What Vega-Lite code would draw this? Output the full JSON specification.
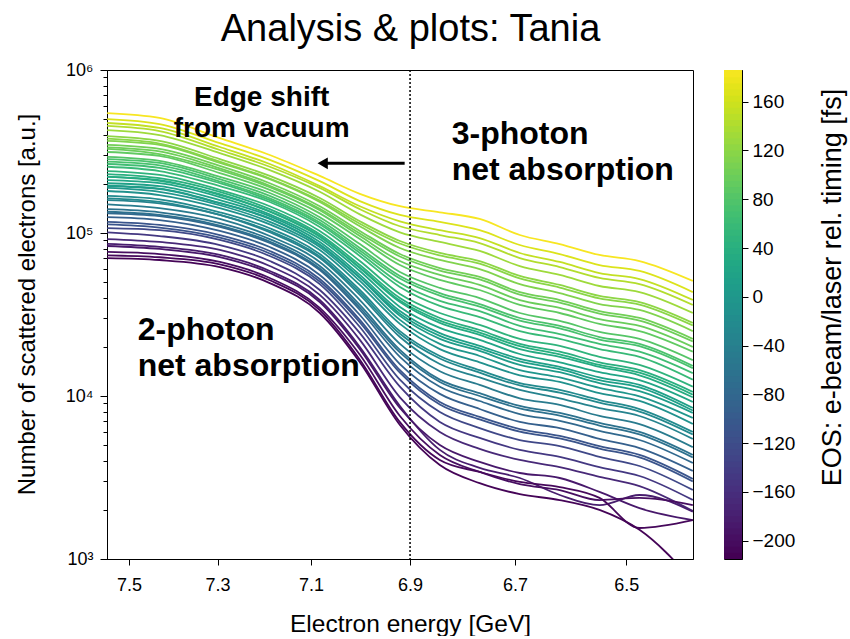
{
"$schema":"https://vega.github.io/schema/vega-lite/v6.json",
"background":"white",
"padding":{"left":14,"top":10,"right":2,"bottom":0},
"title":{"text":"Analysis & plots: Tania","fontSize":38,"font":"Liberation Sans","fontWeight":"normal","color":"black","anchor":"middle","offset":12,"dx":-20},
"config":{
 "font":"Liberation Sans",
 "view":{"stroke":"black","strokeWidth":1},
 "axis":{"grid":false,"domainColor":"black","domainWidth":1,"tickColor":"black","tickWidth":1,"labelColor":"black","titleColor":"black","labelFont":"Liberation Sans","titleFont":"Liberation Sans","labelFontSize":18,"titleFontSize":24,"titleFontWeight":"normal","labelFlush":false,"labelOverlap":false}
},
"datasets":{
"c":[
{"t":182,"x":7.551,"y":5.44e5},{"t":182,"x":7.43,"y":5.08e5},{"t":182,"x":7.295,"y":3.82e5},{"t":182,"x":7.187,"y":3.01e5},{"t":182,"x":7.082,"y":2.24e5},{"t":182,"x":7.0,"y":1.74e5},{"t":182,"x":6.92,"y":1.46e5},{"t":182,"x":6.842,"y":1.34e5},{"t":182,"x":6.766,"y":1.22e5},{"t":182,"x":6.691,"y":9.72e4},{"t":182,"x":6.618,"y":8.55e4},{"t":182,"x":6.547,"y":7.33e4},{"t":182,"x":6.477,"y":6.73e4},{"t":182,"x":6.386,"y":5.08e4},
{"t":165,"x":7.551,"y":5.00e5},{"t":165,"x":7.43,"y":4.66e5},{"t":165,"x":7.295,"y":3.56e5},{"t":165,"x":7.187,"y":2.81e5},{"t":165,"x":7.082,"y":2.08e5},{"t":165,"x":7.0,"y":1.57e5},{"t":165,"x":6.92,"y":1.29e5},{"t":165,"x":6.842,"y":1.17e5},{"t":165,"x":6.766,"y":1.04e5},{"t":165,"x":6.691,"y":8.44e4},{"t":165,"x":6.618,"y":7.43e4},{"t":165,"x":6.547,"y":6.36e4},{"t":165,"x":6.477,"y":5.85e4},{"t":165,"x":6.386,"y":4.34e4},
{"t":150,"x":7.551,"y":4.73e5},{"t":150,"x":7.43,"y":4.41e5},{"t":150,"x":7.295,"y":3.37e5},{"t":150,"x":7.187,"y":2.65e5},{"t":150,"x":7.082,"y":1.94e5},{"t":150,"x":7.0,"y":1.46e5},{"t":150,"x":6.92,"y":1.18e5},{"t":150,"x":6.842,"y":1.04e5},{"t":150,"x":6.766,"y":9.31e4},{"t":150,"x":6.691,"y":7.54e4},{"t":150,"x":6.618,"y":6.64e4},{"t":150,"x":6.547,"y":5.68e4},{"t":150,"x":6.477,"y":5.22e4},{"t":150,"x":6.386,"y":3.88e4},
{"t":140,"x":7.551,"y":4.54e5},{"t":140,"x":7.43,"y":4.22e5},{"t":140,"x":7.295,"y":3.23e5},{"t":140,"x":7.187,"y":2.55e5},{"t":140,"x":7.082,"y":1.89e5},{"t":140,"x":7.0,"y":1.40e5},{"t":140,"x":6.92,"y":1.10e5},{"t":140,"x":6.842,"y":9.72e4},{"t":140,"x":6.766,"y":8.68e4},{"t":140,"x":6.691,"y":7.02e4},{"t":140,"x":6.618,"y":6.18e4},{"t":140,"x":6.547,"y":5.30e4},{"t":140,"x":6.477,"y":4.86e4},{"t":140,"x":6.386,"y":3.62e4},
{"t":128,"x":7.551,"y":4.28e5},{"t":128,"x":7.43,"y":3.99e5},{"t":128,"x":7.295,"y":3.09e5},{"t":128,"x":7.187,"y":2.43e5},{"t":128,"x":7.082,"y":1.79e5},{"t":128,"x":7.0,"y":1.30e5},{"t":128,"x":6.92,"y":1.01e5},{"t":128,"x":6.842,"y":8.81e4},{"t":128,"x":6.766,"y":7.76e4},{"t":128,"x":6.691,"y":6.27e4},{"t":128,"x":6.618,"y":5.53e4},{"t":128,"x":6.547,"y":4.73e4},{"t":128,"x":6.477,"y":4.34e4},{"t":128,"x":6.386,"y":3.23e4},
{"t":118,"x":7.551,"y":3.93e5},{"t":118,"x":7.43,"y":3.67e5},{"t":118,"x":7.295,"y":2.84e5},{"t":118,"x":7.187,"y":2.24e5},{"t":118,"x":7.082,"y":1.64e5},{"t":118,"x":7.0,"y":1.18e5},{"t":118,"x":6.92,"y":8.93e4},{"t":118,"x":6.842,"y":7.54e4},{"t":118,"x":6.766,"y":6.73e4},{"t":118,"x":6.691,"y":5.45e4},{"t":118,"x":6.618,"y":4.80e4},{"t":118,"x":6.547,"y":4.11e4},{"t":118,"x":6.477,"y":3.77e4},{"t":118,"x":6.386,"y":2.81e4},
{"t":116,"x":7.551,"y":3.79e5},{"t":116,"x":7.43,"y":3.54e5},{"t":116,"x":7.295,"y":2.74e5},{"t":116,"x":7.187,"y":2.16e5},{"t":116,"x":7.082,"y":1.58e5},{"t":116,"x":7.0,"y":1.14e5},{"t":116,"x":6.92,"y":8.62e4},{"t":116,"x":6.842,"y":7.28e4},{"t":116,"x":6.766,"y":6.49e4},{"t":116,"x":6.691,"y":5.26e4},{"t":116,"x":6.618,"y":4.63e4},{"t":116,"x":6.547,"y":3.97e4},{"t":116,"x":6.477,"y":3.64e4},{"t":116,"x":6.386,"y":2.71e4},
{"t":110,"x":7.551,"y":3.67e5},{"t":110,"x":7.43,"y":3.47e5},{"t":110,"x":7.295,"y":2.69e5},{"t":110,"x":7.187,"y":2.14e5},{"t":110,"x":7.082,"y":1.55e5},{"t":110,"x":7.0,"y":1.10e5},{"t":110,"x":6.92,"y":8.09e4},{"t":110,"x":6.842,"y":6.83e4},{"t":110,"x":6.766,"y":6.00e4},{"t":110,"x":6.691,"y":4.86e4},{"t":110,"x":6.618,"y":4.28e4},{"t":110,"x":6.547,"y":3.66e4},{"t":110,"x":6.477,"y":3.37e4},{"t":110,"x":6.386,"y":2.50e4},
{"t":100,"x":7.551,"y":3.47e5},{"t":100,"x":7.43,"y":3.28e5},{"t":100,"x":7.295,"y":2.58e5},{"t":100,"x":7.187,"y":2.02e5},{"t":100,"x":7.082,"y":1.46e5},{"t":100,"x":7.0,"y":1.03e5},{"t":100,"x":6.92,"y":7.43e4},{"t":100,"x":6.842,"y":6.09e4},{"t":100,"x":6.766,"y":5.38e4},{"t":100,"x":6.691,"y":4.34e4},{"t":100,"x":6.618,"y":3.88e4},{"t":100,"x":6.547,"y":3.32e4},{"t":100,"x":6.477,"y":3.01e4},{"t":100,"x":6.386,"y":2.24e4},
{"t":98,"x":7.551,"y":3.35e5},{"t":98,"x":7.43,"y":3.17e5},{"t":98,"x":7.295,"y":2.49e5},{"t":98,"x":7.187,"y":1.95e5},{"t":98,"x":7.082,"y":1.41e5},{"t":98,"x":7.0,"y":9.94e4},{"t":98,"x":6.92,"y":7.17e4},{"t":98,"x":6.842,"y":5.88e4},{"t":98,"x":6.766,"y":5.19e4},{"t":98,"x":6.691,"y":4.19e4},{"t":98,"x":6.618,"y":3.74e4},{"t":98,"x":6.547,"y":3.20e4},{"t":98,"x":6.477,"y":2.90e4},{"t":98,"x":6.386,"y":2.16e4},
{"t":95,"x":7.551,"y":3.28e5},{"t":95,"x":7.43,"y":3.05e5},{"t":95,"x":7.295,"y":2.43e5},{"t":95,"x":7.187,"y":1.91e5},{"t":95,"x":7.082,"y":1.38e5},{"t":95,"x":7.0,"y":9.58e4},{"t":95,"x":6.92,"y":6.73e4},{"t":95,"x":6.842,"y":5.53e4},{"t":95,"x":6.766,"y":4.80e4},{"t":95,"x":6.691,"y":3.88e4},{"t":95,"x":6.618,"y":3.47e4},{"t":95,"x":6.547,"y":2.96e4},{"t":95,"x":6.477,"y":2.69e4},{"t":95,"x":6.386,"y":2.00e4},
{"t":88,"x":7.551,"y":3.14e5},{"t":88,"x":7.43,"y":2.97e5},{"t":88,"x":7.295,"y":2.33e5},{"t":88,"x":7.187,"y":1.84e5},{"t":88,"x":7.082,"y":1.32e5},{"t":88,"x":7.0,"y":9.18e4},{"t":88,"x":6.92,"y":6.36e4},{"t":88,"x":6.842,"y":5.15e4},{"t":88,"x":6.766,"y":4.47e4},{"t":88,"x":6.691,"y":3.62e4},{"t":88,"x":6.618,"y":3.23e4},{"t":88,"x":6.547,"y":2.77e4},{"t":88,"x":6.477,"y":2.50e4},{"t":88,"x":6.386,"y":1.87e4},
{"t":80,"x":7.551,"y":2.93e5},{"t":80,"x":7.43,"y":2.77e5},{"t":80,"x":7.295,"y":2.21e5},{"t":80,"x":7.187,"y":1.76e5},{"t":80,"x":7.082,"y":1.25e5},{"t":80,"x":7.0,"y":8.55e4},{"t":80,"x":6.92,"y":5.76e4},{"t":80,"x":6.842,"y":4.60e4},{"t":80,"x":6.766,"y":3.99e4},{"t":80,"x":6.691,"y":3.23e4},{"t":80,"x":6.618,"y":2.89e4},{"t":80,"x":6.547,"y":2.47e4},{"t":80,"x":6.477,"y":2.24e4},{"t":80,"x":6.386,"y":1.66e4},
{"t":72,"x":7.551,"y":2.84e5},{"t":72,"x":7.43,"y":2.69e5},{"t":72,"x":7.295,"y":2.14e5},{"t":72,"x":7.187,"y":1.69e5},{"t":72,"x":7.082,"y":1.20e5},{"t":72,"x":7.0,"y":8.09e4},{"t":72,"x":6.92,"y":5.45e4},{"t":72,"x":6.842,"y":4.28e4},{"t":72,"x":6.766,"y":3.66e4},{"t":72,"x":6.691,"y":3.01e4},{"t":72,"x":6.618,"y":2.69e4},{"t":72,"x":6.547,"y":2.30e4},{"t":72,"x":6.477,"y":2.09e4},{"t":72,"x":6.386,"y":1.53e4},
{"t":70,"x":7.551,"y":2.74e5},{"t":70,"x":7.43,"y":2.60e5},{"t":70,"x":7.295,"y":2.07e5},{"t":70,"x":7.187,"y":1.63e5},{"t":70,"x":7.082,"y":1.16e5},{"t":70,"x":7.0,"y":7.81e4},{"t":70,"x":6.92,"y":5.26e4},{"t":70,"x":6.842,"y":4.13e4},{"t":70,"x":6.766,"y":3.53e4},{"t":70,"x":6.691,"y":2.90e4},{"t":70,"x":6.618,"y":2.60e4},{"t":70,"x":6.547,"y":2.22e4},{"t":70,"x":6.477,"y":2.02e4},{"t":70,"x":6.386,"y":1.48e4},
{"t":62,"x":7.551,"y":2.65e5},{"t":62,"x":7.43,"y":2.51e5},{"t":62,"x":7.295,"y":2.02e5},{"t":62,"x":7.187,"y":1.59e5},{"t":62,"x":7.082,"y":1.13e5},{"t":62,"x":7.0,"y":7.54e4},{"t":62,"x":6.92,"y":4.93e4},{"t":62,"x":6.842,"y":3.83e4},{"t":62,"x":6.766,"y":3.32e4},{"t":62,"x":6.691,"y":2.69e4},{"t":62,"x":6.618,"y":2.40e4},{"t":62,"x":6.547,"y":2.09e4},{"t":62,"x":6.477,"y":1.87e4},{"t":62,"x":6.386,"y":1.38e4},
{"t":55,"x":7.551,"y":2.55e5},{"t":55,"x":7.43,"y":2.40e5},{"t":55,"x":7.295,"y":1.94e5},{"t":55,"x":7.187,"y":1.55e5},{"t":55,"x":7.082,"y":1.09e5},{"t":55,"x":7.0,"y":7.23e4},{"t":55,"x":6.92,"y":4.67e4},{"t":55,"x":6.842,"y":3.57e4},{"t":55,"x":6.766,"y":3.05e4},{"t":55,"x":6.691,"y":2.50e4},{"t":55,"x":6.618,"y":2.24e4},{"t":55,"x":6.547,"y":1.94e4},{"t":55,"x":6.477,"y":1.74e4},{"t":55,"x":6.386,"y":1.26e4},
{"t":45,"x":7.551,"y":2.40e5},{"t":45,"x":7.43,"y":2.27e5},{"t":45,"x":7.295,"y":1.84e5},{"t":45,"x":7.187,"y":1.46e5},{"t":45,"x":7.082,"y":1.03e5},{"t":45,"x":7.0,"y":6.73e4},{"t":45,"x":6.92,"y":4.23e4},{"t":45,"x":6.842,"y":3.23e4},{"t":45,"x":6.766,"y":2.73e4},{"t":45,"x":6.691,"y":2.24e4},{"t":45,"x":6.618,"y":2.03e4},{"t":45,"x":6.547,"y":1.74e4},{"t":45,"x":6.477,"y":1.55e4},{"t":45,"x":6.386,"y":1.14e4},
{"t":38,"x":7.551,"y":2.30e5},{"t":38,"x":7.43,"y":2.17e5},{"t":38,"x":7.295,"y":1.79e5},{"t":38,"x":7.187,"y":1.40e5},{"t":38,"x":7.082,"y":9.82e4},{"t":38,"x":7.0,"y":6.36e4},{"t":38,"x":6.92,"y":3.99e4},{"t":38,"x":6.842,"y":3.01e4},{"t":38,"x":6.766,"y":2.54e4},{"t":38,"x":6.691,"y":2.09e4},{"t":38,"x":6.618,"y":1.87e4},{"t":38,"x":6.547,"y":1.61e4},{"t":38,"x":6.477,"y":1.44e4},{"t":38,"x":6.386,"y":1.06e4},
{"t":36,"x":7.551,"y":2.22e5},{"t":36,"x":7.43,"y":2.09e5},{"t":36,"x":7.295,"y":1.73e5},{"t":36,"x":7.187,"y":1.35e5},{"t":36,"x":7.082,"y":9.48e4},{"t":36,"x":7.0,"y":6.14e4},{"t":36,"x":6.92,"y":3.85e4},{"t":36,"x":6.842,"y":2.90e4},{"t":36,"x":6.766,"y":2.45e4},{"t":36,"x":6.691,"y":2.02e4},{"t":36,"x":6.618,"y":1.80e4},{"t":36,"x":6.547,"y":1.55e4},{"t":36,"x":6.477,"y":1.39e4},{"t":36,"x":6.386,"y":1.02e4},
{"t":30,"x":7.551,"y":2.21e5},{"t":30,"x":7.43,"y":2.11e5},{"t":30,"x":7.295,"y":1.71e5},{"t":30,"x":7.187,"y":1.36e5},{"t":30,"x":7.082,"y":9.58e4},{"t":30,"x":7.0,"y":6.09e4},{"t":30,"x":6.92,"y":3.77e4},{"t":30,"x":6.842,"y":2.81e4},{"t":30,"x":6.766,"y":2.37e4},{"t":30,"x":6.691,"y":1.94e4},{"t":30,"x":6.618,"y":1.74e4},{"t":30,"x":6.547,"y":1.51e4},{"t":30,"x":6.477,"y":1.34e4},{"t":30,"x":6.386,"y":9.82e3},
{"t":20,"x":7.551,"y":2.11e5},{"t":20,"x":7.43,"y":2.02e5},{"t":20,"x":7.295,"y":1.66e5},{"t":20,"x":7.187,"y":1.30e5},{"t":20,"x":7.082,"y":9.18e4},{"t":20,"x":7.0,"y":5.85e4},{"t":20,"x":6.92,"y":3.52e4},{"t":20,"x":6.842,"y":2.62e4},{"t":20,"x":6.766,"y":2.21e4},{"t":20,"x":6.691,"y":1.81e4},{"t":20,"x":6.618,"y":1.61e4},{"t":20,"x":6.547,"y":1.40e4},{"t":20,"x":6.477,"y":1.25e4},{"t":20,"x":6.386,"y":9.19e3},
{"t":12,"x":7.551,"y":2.02e5},{"t":12,"x":7.43,"y":1.94e5},{"t":12,"x":7.295,"y":1.59e5},{"t":12,"x":7.187,"y":1.27e5},{"t":12,"x":7.082,"y":8.81e4},{"t":12,"x":7.0,"y":5.53e4},{"t":12,"x":6.92,"y":3.32e4},{"t":12,"x":6.842,"y":2.43e4},{"t":12,"x":6.766,"y":2.03e4},{"t":12,"x":6.691,"y":1.69e4},{"t":12,"x":6.618,"y":1.51e4},{"t":12,"x":6.547,"y":1.30e4},{"t":12,"x":6.477,"y":1.17e4},{"t":12,"x":6.386,"y":8.44e3},
{"t":10,"x":7.551,"y":1.95e5},{"t":10,"x":7.43,"y":1.87e5},{"t":10,"x":7.295,"y":1.53e5},{"t":10,"x":7.187,"y":1.23e5},{"t":10,"x":7.082,"y":8.50e4},{"t":10,"x":7.0,"y":5.34e4},{"t":10,"x":6.92,"y":3.20e4},{"t":10,"x":6.842,"y":2.34e4},{"t":10,"x":6.766,"y":1.96e4},{"t":10,"x":6.691,"y":1.63e4},{"t":10,"x":6.618,"y":1.46e4},{"t":10,"x":6.547,"y":1.25e4},{"t":10,"x":6.477,"y":1.13e4},{"t":10,"x":6.386,"y":8.14e3},
{"t":5,"x":7.551,"y":1.94e5},{"t":5,"x":7.43,"y":1.86e5},{"t":5,"x":7.295,"y":1.52e5},{"t":5,"x":7.187,"y":1.22e5},{"t":5,"x":7.082,"y":8.44e4},{"t":5,"x":7.0,"y":5.30e4},{"t":5,"x":6.92,"y":3.10e4},{"t":5,"x":6.842,"y":2.24e4},{"t":5,"x":6.766,"y":1.89e4},{"t":5,"x":6.691,"y":1.55e4},{"t":5,"x":6.618,"y":1.40e4},{"t":5,"x":6.547,"y":1.20e4},{"t":5,"x":6.477,"y":1.07e4},{"t":5,"x":6.386,"y":7.87e3},
{"t":-5,"x":7.551,"y":1.89e5},{"t":-5,"x":7.43,"y":1.79e5},{"t":-5,"x":7.295,"y":1.48e5},{"t":-5,"x":7.187,"y":1.17e5},{"t":-5,"x":7.082,"y":8.20e4},{"t":-5,"x":7.0,"y":5.08e4},{"t":-5,"x":6.92,"y":2.93e4},{"t":-5,"x":6.842,"y":2.09e4},{"t":-5,"x":6.766,"y":1.76e4},{"t":-5,"x":6.691,"y":1.44e4},{"t":-5,"x":6.618,"y":1.30e4},{"t":-5,"x":6.547,"y":1.12e4},{"t":-5,"x":6.477,"y":9.96e3},{"t":-5,"x":6.386,"y":7.33e3},
{"t":-15,"x":7.551,"y":1.81e5},{"t":-15,"x":7.43,"y":1.71e5},{"t":-15,"x":7.295,"y":1.42e5},{"t":-15,"x":7.187,"y":1.13e5},{"t":-15,"x":7.082,"y":7.87e4},{"t":-15,"x":7.0,"y":4.80e4},{"t":-15,"x":6.92,"y":2.77e4},{"t":-15,"x":6.842,"y":1.94e4},{"t":-15,"x":6.766,"y":1.61e4},{"t":-15,"x":6.691,"y":1.34e4},{"t":-15,"x":6.618,"y":1.22e4},{"t":-15,"x":6.547,"y":1.04e4},{"t":-15,"x":6.477,"y":9.32e3},{"t":-15,"x":6.386,"y":6.73e3},
{"t":-25,"x":7.551,"y":1.69e5},{"t":-25,"x":7.43,"y":1.61e5},{"t":-25,"x":7.295,"y":1.34e5},{"t":-25,"x":7.187,"y":1.07e5},{"t":-25,"x":7.082,"y":7.43e4},{"t":-25,"x":7.0,"y":4.47e4},{"t":-25,"x":6.92,"y":2.50e4},{"t":-25,"x":6.842,"y":1.76e4},{"t":-25,"x":6.766,"y":1.44e4},{"t":-25,"x":6.691,"y":1.20e4},{"t":-25,"x":6.618,"y":1.09e4},{"t":-25,"x":6.547,"y":9.45e3},{"t":-25,"x":6.477,"y":8.32e3},{"t":-25,"x":6.386,"y":6.02e3},
{"t":-27,"x":7.551,"y":1.63e5},{"t":-27,"x":7.43,"y":1.55e5},{"t":-27,"x":7.295,"y":1.29e5},{"t":-27,"x":7.187,"y":1.03e5},{"t":-27,"x":7.082,"y":7.17e4},{"t":-27,"x":7.0,"y":4.31e4},{"t":-27,"x":6.92,"y":2.41e4},{"t":-27,"x":6.842,"y":1.70e4},{"t":-27,"x":6.766,"y":1.39e4},{"t":-27,"x":6.691,"y":1.16e4},{"t":-27,"x":6.618,"y":1.05e4},{"t":-27,"x":6.547,"y":9.12e3},{"t":-27,"x":6.477,"y":8.03e3},{"t":-27,"x":6.386,"y":5.81e3},
{"t":-38,"x":7.551,"y":1.59e5},{"t":-38,"x":7.43,"y":1.52e5},{"t":-38,"x":7.295,"y":1.29e5},{"t":-38,"x":7.187,"y":1.01e5},{"t":-38,"x":7.082,"y":7.02e4},{"t":-38,"x":7.0,"y":4.17e4},{"t":-38,"x":6.92,"y":2.30e4},{"t":-38,"x":6.842,"y":1.57e4},{"t":-38,"x":6.766,"y":1.30e4},{"t":-38,"x":6.691,"y":1.09e4},{"t":-38,"x":6.618,"y":9.68e3},{"t":-38,"x":6.547,"y":8.44e3},{"t":-38,"x":6.477,"y":7.54e3},{"t":-38,"x":6.386,"y":5.45e3},
{"t":-50,"x":7.551,"y":1.50e5},{"t":-50,"x":7.43,"y":1.42e5},{"t":-50,"x":7.295,"y":1.22e5},{"t":-50,"x":7.187,"y":9.58e4},{"t":-50,"x":7.082,"y":6.64e4},{"t":-50,"x":7.0,"y":3.88e4},{"t":-50,"x":6.92,"y":2.09e4},{"t":-50,"x":6.842,"y":1.42e4},{"t":-50,"x":6.766,"y":1.17e4},{"t":-50,"x":6.691,"y":9.68e3},{"t":-50,"x":6.618,"y":8.81e3},{"t":-50,"x":6.547,"y":7.54e3},{"t":-50,"x":6.477,"y":6.73e3},{"t":-50,"x":6.386,"y":4.86e3},
{"t":-65,"x":7.551,"y":1.40e5},{"t":-65,"x":7.43,"y":1.34e5},{"t":-65,"x":7.295,"y":1.15e5},{"t":-65,"x":7.187,"y":9.18e4},{"t":-65,"x":7.082,"y":6.27e4},{"t":-65,"x":7.0,"y":3.62e4},{"t":-65,"x":6.92,"y":1.92e4},{"t":-65,"x":6.842,"y":1.26e4},{"t":-65,"x":6.766,"y":1.04e4},{"t":-65,"x":6.691,"y":8.69e3},{"t":-65,"x":6.618,"y":7.87e3},{"t":-65,"x":6.547,"y":6.83e3},{"t":-65,"x":6.477,"y":6.02e3},{"t":-65,"x":6.386,"y":4.35e3},
{"t":-67,"x":7.551,"y":1.35e5},{"t":-67,"x":7.43,"y":1.29e5},{"t":-67,"x":7.295,"y":1.11e5},{"t":-67,"x":7.187,"y":8.86e4},{"t":-67,"x":7.082,"y":6.05e4},{"t":-67,"x":7.0,"y":3.49e4},{"t":-67,"x":6.92,"y":1.85e4},{"t":-67,"x":6.842,"y":1.22e4},{"t":-67,"x":6.766,"y":1.00e4},{"t":-67,"x":6.691,"y":8.39e3},{"t":-67,"x":6.618,"y":7.59e3},{"t":-67,"x":6.547,"y":6.59e3},{"t":-67,"x":6.477,"y":5.81e3},{"t":-67,"x":6.386,"y":4.20e3},
{"t":-80,"x":7.551,"y":1.32e5},{"t":-80,"x":7.43,"y":1.27e5},{"t":-80,"x":7.295,"y":1.09e5},{"t":-80,"x":7.187,"y":8.68e4},{"t":-80,"x":7.082,"y":5.93e4},{"t":-80,"x":7.0,"y":3.37e4},{"t":-80,"x":6.92,"y":1.74e4},{"t":-80,"x":6.842,"y":1.14e4},{"t":-80,"x":6.766,"y":9.32e3},{"t":-80,"x":6.691,"y":7.75e3},{"t":-80,"x":6.618,"y":7.03e3},{"t":-80,"x":6.547,"y":6.10e3},{"t":-80,"x":6.477,"y":5.37e3},{"t":-80,"x":6.386,"y":3.88e3},
{"t":-95,"x":7.551,"y":1.25e5},{"t":-95,"x":7.43,"y":1.20e5},{"t":-95,"x":7.295,"y":1.03e5},{"t":-95,"x":7.187,"y":8.20e4},{"t":-95,"x":7.082,"y":5.53e4},{"t":-95,"x":7.0,"y":3.14e4},{"t":-95,"x":6.92,"y":1.57e4},{"t":-95,"x":6.842,"y":1.03e4},{"t":-95,"x":6.766,"y":8.32e3},{"t":-95,"x":6.691,"y":6.93e3},{"t":-95,"x":6.618,"y":6.36e3},{"t":-95,"x":6.547,"y":5.45e3},{"t":-95,"x":6.477,"y":4.79e3},{"t":-95,"x":6.386,"y":3.47e3},
{"t":-110,"x":7.551,"y":1.17e5},{"t":-110,"x":7.43,"y":1.12e5},{"t":-110,"x":7.295,"y":9.72e4},{"t":-110,"x":7.187,"y":7.76e4},{"t":-110,"x":7.082,"y":5.22e4},{"t":-110,"x":7.0,"y":2.93e4},{"t":-110,"x":6.92,"y":1.44e4},{"t":-110,"x":6.842,"y":9.19e3},{"t":-110,"x":6.766,"y":7.44e3},{"t":-110,"x":6.691,"y":6.27e3},{"t":-110,"x":6.618,"y":5.69e3},{"t":-110,"x":6.547,"y":4.93e3},{"t":-110,"x":6.477,"y":4.35e3},{"t":-110,"x":6.386,"y":3.10e3},
{"t":-112,"x":7.551,"y":1.13e5},{"t":-112,"x":7.43,"y":1.08e5},{"t":-112,"x":7.295,"y":9.38e4},{"t":-112,"x":7.187,"y":7.49e4},{"t":-112,"x":7.082,"y":5.04e4},{"t":-112,"x":7.0,"y":2.83e4},{"t":-112,"x":6.92,"y":1.39e4},{"t":-112,"x":6.842,"y":8.87e3},{"t":-112,"x":6.766,"y":7.18e3},{"t":-112,"x":6.691,"y":6.05e3},{"t":-112,"x":6.618,"y":5.49e3},{"t":-112,"x":6.547,"y":4.76e3},{"t":-112,"x":6.477,"y":4.20e3},{"t":-112,"x":6.386,"y":2.99e3},
{"t":-130,"x":7.551,"y":1.07e5},{"t":-130,"x":7.43,"y":1.04e5},{"t":-130,"x":7.295,"y":9.06e4},{"t":-130,"x":7.187,"y":7.23e4},{"t":-130,"x":7.082,"y":4.86e4},{"t":-130,"x":7.0,"y":2.65e4},{"t":-130,"x":6.92,"y":1.26e4},{"t":-130,"x":6.842,"y":7.98e3},{"t":-130,"x":6.766,"y":6.36e3},{"t":-130,"x":6.691,"y":5.37e3},{"t":-130,"x":6.618,"y":4.93e3},{"t":-130,"x":6.547,"y":4.23e3},{"t":-130,"x":6.477,"y":3.72e3},{"t":-130,"x":6.386,"y":2.65e3},
{"t":-150,"x":7.551,"y":1.01e5},{"t":-150,"x":7.43,"y":9.58e4},{"t":-150,"x":7.295,"y":8.44e4},{"t":-150,"x":7.187,"y":6.73e4},{"t":-150,"x":7.082,"y":4.47e4},{"t":-150,"x":7.0,"y":2.43e4},{"t":-150,"x":6.92,"y":1.14e4},{"t":-150,"x":6.842,"y":6.93e3},{"t":-150,"x":6.766,"y":5.53e3},{"t":-150,"x":6.691,"y":4.67e3},{"t":-150,"x":6.618,"y":4.23e3},{"t":-150,"x":6.547,"y":3.66e3},{"t":-150,"x":6.477,"y":3.23e3},{"t":-150,"x":6.386,"y":2.30e3},
{"t":-170,"x":7.551,"y":9.18e4},{"t":-170,"x":7.43,"y":8.81e4},{"t":-170,"x":7.295,"y":7.87e4},{"t":-170,"x":7.187,"y":6.27e4},{"t":-170,"x":7.082,"y":4.17e4},{"t":-170,"x":7.0,"y":2.21e4},{"t":-170,"x":6.92,"y":9.82e3},{"t":-170,"x":6.842,"y":6.02e3},{"t":-170,"x":6.766,"y":4.74e3},{"t":-170,"x":6.691,"y":4.05e3},{"t":-170,"x":6.618,"y":3.66e3},{"t":-170,"x":6.547,"y":3.19e3},{"t":-170,"x":6.477,"y":2.80e3},{"t":-170,"x":6.386,"y":1.97e3},
{"t":-185,"x":7.551,"y":8.57e4},{"t":-185,"x":7.43,"y":8.22e4},{"t":-185,"x":7.295,"y":7.33e4},{"t":-185,"x":7.187,"y":5.85e4},{"t":-185,"x":7.082,"y":3.88e4},{"t":-185,"x":7.0,"y":2.00e4},{"t":-185,"x":6.92,"y":8.69e3},{"t":-185,"x":6.842,"y":4.67e3},{"t":-185,"x":6.766,"y":3.62e3},{"t":-185,"x":6.691,"y":3.14e3},{"t":-185,"x":6.618,"y":2.47e3},{"t":-185,"x":6.547,"y":2.14e3},{"t":-185,"x":6.477,"y":2.47e3},{"t":-185,"x":6.386,"y":1.95e3},
{"t":-190,"x":7.551,"y":8.32e4},{"t":-190,"x":7.43,"y":7.98e4},{"t":-190,"x":7.295,"y":7.12e4},{"t":-190,"x":7.187,"y":5.68e4},{"t":-190,"x":7.082,"y":3.77e4},{"t":-190,"x":7.0,"y":1.94e4},{"t":-190,"x":6.92,"y":8.44e3},{"t":-190,"x":6.842,"y":5.00e3},{"t":-190,"x":6.766,"y":3.94e3},{"t":-190,"x":6.691,"y":3.37e3},{"t":-190,"x":6.618,"y":3.14e3},{"t":-190,"x":6.547,"y":2.58e3},{"t":-190,"x":6.477,"y":2.05e3},{"t":-190,"x":6.386,"y":1.73e3},
{"t":-202,"x":7.551,"y":7.65e4},{"t":-202,"x":7.43,"y":7.43e4},{"t":-202,"x":7.295,"y":6.64e4},{"t":-202,"x":7.187,"y":5.30e4},{"t":-202,"x":7.082,"y":3.47e4},{"t":-202,"x":7.0,"y":1.79e4},{"t":-202,"x":6.92,"y":7.54e3},{"t":-202,"x":6.842,"y":4.35e3},{"t":-202,"x":6.766,"y":3.42e3},{"t":-202,"x":6.691,"y":2.88e3},{"t":-202,"x":6.618,"y":2.65e3},{"t":-202,"x":6.547,"y":2.30e3},{"t":-202,"x":6.477,"y":2.37e3},{"t":-202,"x":6.386,"y":2.14e3},
{"t":-208,"x":7.551,"y":7.30e4},{"t":-208,"x":7.43,"y":7.10e4},{"t":-208,"x":7.295,"y":6.43e4},{"t":-208,"x":7.187,"y":5.13e4},{"t":-208,"x":7.082,"y":3.36e4},{"t":-208,"x":7.0,"y":1.67e4},{"t":-208,"x":6.92,"y":6.91e3},{"t":-208,"x":6.842,"y":4.05e3},{"t":-208,"x":6.766,"y":3.42e3},{"t":-208,"x":6.691,"y":2.97e3},{"t":-208,"x":6.618,"y":2.76e3},{"t":-208,"x":6.547,"y":2.37e3},{"t":-208,"x":6.477,"y":1.55e3},{"t":-208,"x":6.386,"y":1.73e3},
{"t":-212,"x":7.551,"y":7.02e4},{"t":-212,"x":7.43,"y":6.83e4},{"t":-212,"x":7.295,"y":6.18e4},{"t":-212,"x":7.187,"y":4.93e4},{"t":-212,"x":7.082,"y":3.23e4},{"t":-212,"x":7.0,"y":1.61e4},{"t":-212,"x":6.92,"y":6.64e3},{"t":-212,"x":6.842,"y":3.77e3},{"t":-212,"x":6.766,"y":2.92e3},{"t":-212,"x":6.691,"y":2.50e3},{"t":-212,"x":6.618,"y":2.30e3},{"t":-212,"x":6.547,"y":2.00e3},{"t":-212,"x":6.477,"y":1.51e3},{"t":-212,"x":6.386,"y":7.4e2}
],
"cb":[
{"a":-215,"b":-209},{"a":-210,"b":-204},{"a":-205,"b":-199},{"a":-200,"b":-194},{"a":-195,"b":-189},{"a":-190,"b":-184},{"a":-185,"b":-179},{"a":-180,"b":-174},{"a":-175,"b":-169},{"a":-170,"b":-164},{"a":-165,"b":-159},{"a":-160,"b":-154},{"a":-155,"b":-149},{"a":-150,"b":-144},{"a":-145,"b":-139},{"a":-140,"b":-134},{"a":-135,"b":-129},{"a":-130,"b":-124},{"a":-125,"b":-119},{"a":-120,"b":-114},{"a":-115,"b":-109},{"a":-110,"b":-104},{"a":-105,"b":-99},{"a":-100,"b":-94},{"a":-95,"b":-89},{"a":-90,"b":-84},{"a":-85,"b":-79},{"a":-80,"b":-74},{"a":-75,"b":-69},{"a":-70,"b":-64},{"a":-65,"b":-59},{"a":-60,"b":-54},{"a":-55,"b":-49},{"a":-50,"b":-44},{"a":-45,"b":-39},{"a":-40,"b":-34},{"a":-35,"b":-29},{"a":-30,"b":-24},{"a":-25,"b":-19},{"a":-20,"b":-14},{"a":-15,"b":-9},{"a":-10,"b":-4},{"a":-5,"b":1},{"a":0,"b":6},{"a":5,"b":11},{"a":10,"b":16},{"a":15,"b":21},{"a":20,"b":26},{"a":25,"b":31},{"a":30,"b":36},{"a":35,"b":41},{"a":40,"b":46},{"a":45,"b":51},{"a":50,"b":56},{"a":55,"b":61},{"a":60,"b":66},{"a":65,"b":71},{"a":70,"b":76},{"a":75,"b":81},{"a":80,"b":86},{"a":85,"b":91},{"a":90,"b":96},{"a":95,"b":101},{"a":100,"b":106},{"a":105,"b":111},{"a":110,"b":116},{"a":115,"b":121},{"a":120,"b":126},{"a":125,"b":131},{"a":130,"b":136},{"a":135,"b":141},{"a":140,"b":146},{"a":145,"b":151},{"a":150,"b":156},{"a":155,"b":161},{"a":160,"b":166},{"a":165,"b":171},{"a":170,"b":176},{"a":175,"b":181},{"a":180,"b":186}
]
},
"spacing":29,
"hconcat":[
{
"width":586,"height":489,
"layer":[
 {"data":{"name":"c"},
  "mark":{"type":"line","interpolate":"monotone","strokeWidth":1.8,"clip":true},
  "encoding":{
   "x":{"field":"x","type":"quantitative","scale":{"type":"pow","exponent":-1,"domain":[7.5514,6.3857],"nice":false,"zero":false},
        "axis":{"title":"Electron energy [GeV]","titleFontSize":24.5,"titleX":303,"values":[7.5,7.3,7.1,6.9,6.7,6.5],"format":".1f","tickSize":6,"labelPadding":11,"titlePadding":18}},
   "y":{"field":"y","type":"quantitative","scale":{"type":"log","domain":[1000,1000000],"nice":false},
        "axis":{"title":"Number of scattered electrons [a.u.]","titleY":234,"values":[1000,2000,3000,4000,5000,6000,7000,8000,9000,10000,20000,30000,40000,50000,60000,70000,80000,90000,100000,200000,300000,400000,500000,600000,700000,800000,900000,1000000],
                "labelExpr":"datum.value==1000?'10³':datum.value==10000?'10⁴':datum.value==100000?'10⁵':datum.value==1000000?'10⁶':''",
                "tickSize":{"condition":{"test":"indexof([1000,10000,100000,1000000],datum.value)>=0","value":7},"value":4},
                "labelPadding":7,"titlePadding":26}},
   "color":{"field":"t","type":"quantitative","scale":{"scheme":"viridis","domain":[-215,186]},"legend":null},
   "detail":{"field":"t","type":"nominal"}
  }},
 {"data":{"values":[{"e":6.9}]},
  "mark":{"type":"rule","strokeDash":[2,2],"strokeWidth":1.5,"color":"black"},
  "encoding":{"x":{"field":"e","type":"quantitative"}}},
 {"data":{"values":[{"x1":6.9106,"x2":7.0718,"y":267700}]},
  "mark":{"type":"rule","strokeWidth":3,"color":"black"},
  "encoding":{"x":{"field":"x1","type":"quantitative"},"x2":{"field":"x2"},"y":{"field":"y","type":"quantitative"}}},
 {"data":{"values":[{"x":7.076,"y":267700}]},
  "mark":{"type":"point","shape":"triangle-left","filled":true,"size":140,"color":"black","opacity":1},
  "encoding":{"x":{"field":"x","type":"quantitative"},"y":{"field":"y","type":"quantitative"}}},
 {"data":{"values":[{"x":7.2043,"y":601000,"s":"Edge shift\nfrom vacuum"}]},
  "mark":{"type":"text","align":"center","baseline":"alphabetic","fontSize":28,"fontWeight":"bold","lineHeight":31,"lineBreak":"\n","color":"black","font":"Liberation Sans"},
  "encoding":{"x":{"field":"x","type":"quantitative"},"y":{"field":"y","type":"quantitative"},"text":{"field":"s"}}},
 {"data":{"values":[{"x":6.8192,"y":351600,"s":"3-photon\nnet absorption"},{"x":7.4799,"y":22060,"s":"2-photon\nnet absorption"}]},
  "mark":{"type":"text","align":"left","baseline":"alphabetic","fontSize":32,"fontWeight":"bold","lineHeight":36.5,"lineBreak":"\n","color":"black","font":"Liberation Sans"},
  "encoding":{"x":{"field":"x","type":"quantitative"},"y":{"field":"y","type":"quantitative"},"text":{"field":"s"}}}
]
},
{
"width":18,"height":489,
"data":{"name":"cb"},
"mark":{"type":"rect"},
"encoding":{
 "y":{"field":"a","type":"quantitative","scale":{"domain":[-215,186],"nice":false,"zero":false},
      "axis":{"orient":"right","title":"EOS: e-beam/laser rel. timing [fs]","titleFontSize":27,"titleY":217,"labelFontSize":19,"values":[-200,-160,-120,-80,-40,0,40,80,120,160],"tickSize":6,"labelPadding":4,"titleAngle":270,"titleBaseline":"top","titlePadding":25}},
 "y2":{"field":"b"},
 "color":{"field":"a","type":"quantitative","scale":{"scheme":"viridis","domain":[-215,186]},"legend":null}
}
}
]
}
